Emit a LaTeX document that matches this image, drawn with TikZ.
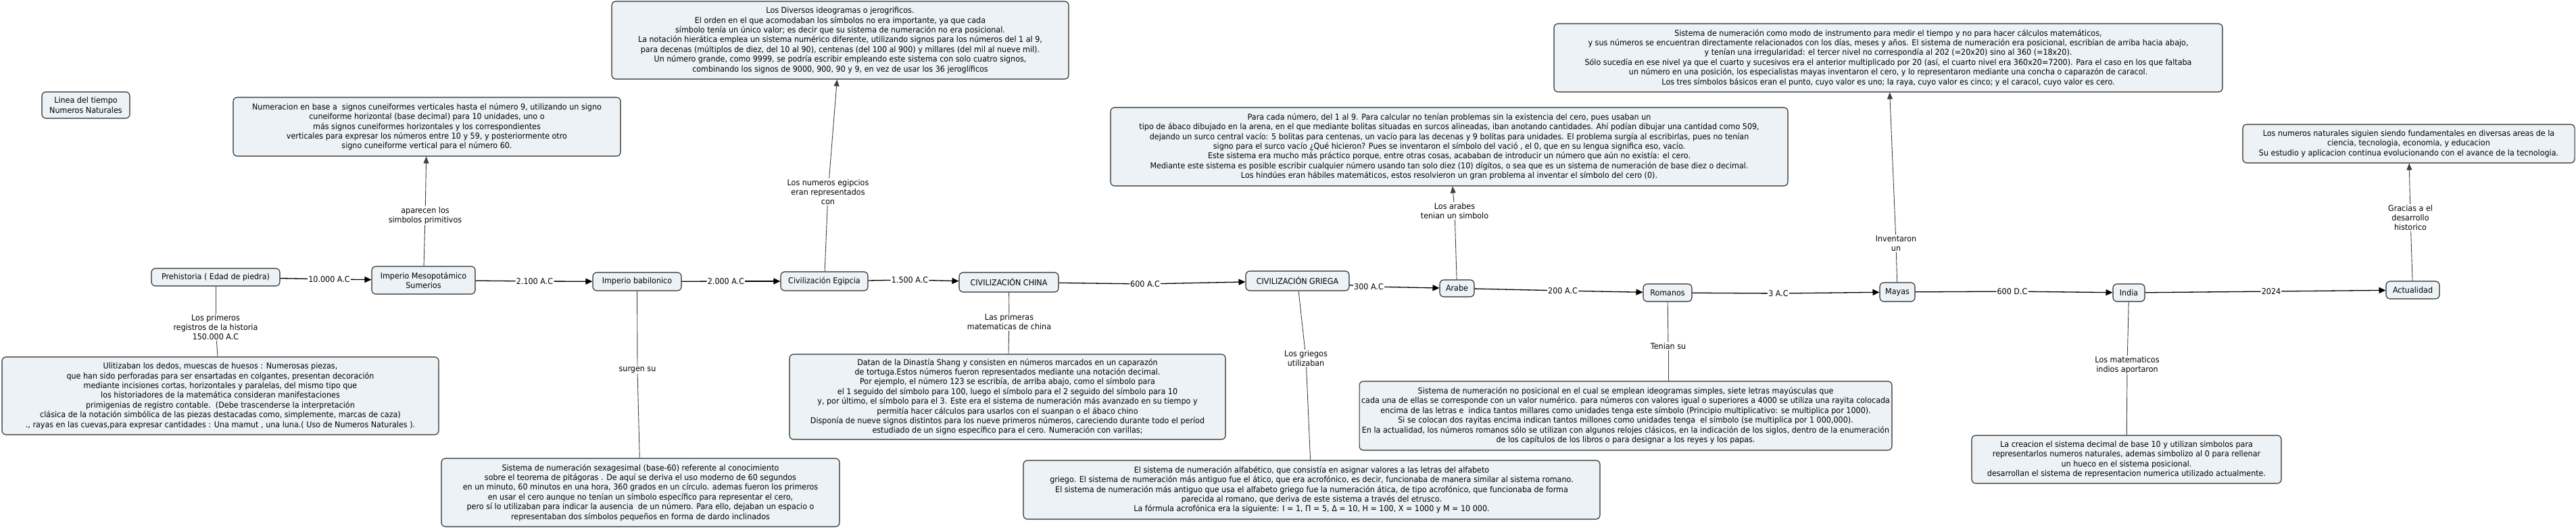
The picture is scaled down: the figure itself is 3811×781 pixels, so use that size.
\documentclass[tikz,border=0pt]{standalone}
\usepackage{fontspec}
\setmainfont{DejaVu Sans}[FakeStretch=0.93]
\usetikzlibrary{arrows.meta}
\definecolor{boxfill}{RGB}{236,242,245}
\definecolor{edgecol}{RGB}{40,40,40}
\tikzset{
  cbox/.style={draw=edgecol, line width=1.1pt, rounded corners=6pt, fill=boxfill,
    align=center, inner sep=3pt, font=\fontsize{12}{14.4}\selectfont},
  lbl/.style={fill=white, inner sep=1pt, align=center, font=\fontsize{12}{14.4}\selectfont},
  tl/.style={draw=black, line width=1.3pt},
  tla/.style={tl, -{Triangle[length=10pt,width=9pt]}},
  vl/.style={draw=black!75, line width=0.9pt},
  vla/.style={vl, -{Triangle[length=10pt,width=8pt]}},
}
\begin{document}
\begin{tikzpicture}[x=1pt,y=-1pt]
\useasboundingbox (0,0) rectangle (3811,781);
\fill[white] (0,0) rectangle (3811,781);

% ---- boxes ----
\node[cbox, minimum width=130pt, minimum height=39pt] (linea) at (127,155.5)
  {Linea del tiempo\\Numeros Naturales};
\node[cbox, minimum width=573pt, minimum height=87pt] (numer) at (631.5,187.5)
  {Numeracion en base a\ \ signos cuneiformes verticales hasta el número 9, utilizando un signo\\
   cuneiforme horizontal (base decimal) para 10 unidades, uno o\\
   más signos cuneiformes horizontales y los correspondientes\\
   verticales para expresar los números entre 10 y 59, y posteriormente otro\\
   signo cuneiforme vertical para el número 60.};
\node[cbox, minimum width=676pt, minimum height=115pt] (diversos) at (1243,59.5)
  {Los Diversos ideogramas o jerogrificos.\\
   El orden en el que acomodaban los símbolos no era importante, ya que cada\\
   símbolo tenía un único valor; es decir que su sistema de numeración no era posicional.\\
   La notación hierática emplea un sistema numérico diferente, utilizando signos para los números del 1 al 9,\\
   para decenas (múltiplos de diez, del 10 al 90), centenas (del 100 al 900) y millares (del mil al nueve mil).\\
   Un número grande, como 9999, se podría escribir empleando este sistema con solo cuatro signos,\\
   combinando los signos de 9000, 900, 90 y 9, en vez de usar los 36 jeroglíficos};

\node[cbox, minimum width=190pt, minimum height=26pt] (prehist) at (319,410) {Prehistoria ( Edad de piedra)};
\node[cbox, minimum width=153pt, minimum height=41pt] (meso) at (626.5,414.5) {Imperio Mesopotámico\\Sumerios};
\node[cbox, minimum width=131pt, minimum height=27pt] (babil) at (942.5,416.5) {Imperio babilonico};
\node[cbox, minimum width=129pt, minimum height=28pt] (egip) at (1219.5,416) {Civilización Egipcia};
\node[cbox, minimum width=147pt, minimum height=29pt] (china) at (1492.5,417.5) {CIVILIZACIÓN CHINA};
\node[cbox, minimum width=153pt, minimum height=29pt] (griega) at (1919.5,415.5) {CIVILIZACIÓN GRIEGA};
\node[cbox, minimum width=51pt, minimum height=25pt] (arabe) at (2155.5,426.5) {Arabe};
\node[cbox, minimum width=72pt, minimum height=26pt] (romanos) at (2467,433) {Romanos};
\node[cbox, minimum width=52pt, minimum height=28pt] (mayas) at (2807,432) {Mayas};
\node[cbox, minimum width=47pt, minimum height=26pt] (india) at (3149.5,433) {India};
\node[cbox, minimum width=79pt, minimum height=26pt] (actual) at (3569.5,429) {Actualidad};

\node[cbox, minimum width=646pt, minimum height=115pt] (ulit) at (326,585.5)
  {Ulitizaban los dedos, muescas de huesos : Numerosas piezas,\\
   que han sido perforadas para ser ensartadas en colgantes, presentan decoración\\
   mediante incisiones cortas, horizontales y paralelas, del mismo tipo que\\
   los historiadores de la matemática consideran manifestaciones\\
   primigenias de registro contable.\ \ (Debe trascenderse la interpretación\\
   clásica de la notación simbólica de las piezas destacadas como, simplemente, marcas de caza)\\
   ., rayas en las cuevas,para expresar cantidades : Una mamut , una luna.( Uso de Numeros Naturales ).};
\node[cbox, minimum width=589pt, minimum height=101pt] (sexa) at (947.5,728.5)
  {Sistema de numeración sexagesimal (base-60) referente al conocimiento\\
   sobre el teorema de pitágoras . De aquí se deriva el uso moderno de 60 segundos\\
   en un minuto, 60 minutos en una hora, 360 grados en un círculo. ademas fueron los primeros\\
   en usar el cero aunque no tenían un símbolo específico para representar el cero,\\
   pero sí lo utilizaban para indicar la ausencia\ \ de un número. Para ello, dejaban un espacio o\\
   representaban dos símbolos pequeños en forma de dardo inclinados};
\node[cbox, minimum width=645pt, minimum height=126pt] (datan) at (1490.5,587)
  {Datan de la Dinastía Shang y consisten en números marcados en un caparazón\\
   de tortuga.Estos números fueron representados mediante una notación decimal.\\
   Por ejemplo, el número 123 se escribía, de arriba abajo, como el símbolo para\\
   el 1 seguido del símbolo para 100, luego el símbolo para el 2 seguido del símbolo para 10\\
   y, por último, el símbolo para el 3. Este era el sistema de numeración más avanzado en su tiempo y\\
   permitía hacer cálculos para usarlos con el suanpan o el ábaco chino\\
   Disponía de nueve signos distintos para los nueve primeros números, careciendo durante todo el períod\\
   estudiado de un signo específico para el cero. Numeración con varillas;};
\node[cbox, minimum width=853pt, minimum height=87pt] (greek) at (1940.5,724.5)
  {El sistema de numeración alfabético, que consistía en asignar valores a las letras del alfabeto\\
   griego. El sistema de numeración más antiguo fue el ático, que era acrofónico, es decir, funcionaba de manera similar al sistema romano.\\
   El sistema de numeración más antiguo que usa el alfabeto griego fue la numeración ática, de tipo acrofónico, que funcionaba de forma\\
   parecida al romano, que deriva de este sistema a través del etrusco.\\
   La fórmula acrofónica era la siguiente: Ι = 1, Π = 5, Δ = 10, Η = 100, Χ = 1000 y Μ = 10 000.};
\node[cbox, minimum width=1002pt, minimum height=116pt] (paracada) at (2144,217)
  {Para cada número, del 1 al 9. Para calcular no tenían problemas sin la existencia del cero, pues usaban un\\
   tipo de ábaco dibujado en la arena, en el que mediante bolitas situadas en surcos alineadas, iban anotando cantidades. Ahí podían dibujar una cantidad como 509,\\
   dejando un surco central vacío: 5 bolitas para centenas, un vacío para las decenas y 9 bolitas para unidades. El problema surgía al escribirlas, pues no tenían\\
   signo para el surco vacío ¿Qué hicieron? Pues se inventaron el símbolo del vació , el 0, que en su lengua significa eso, vacío.\\
   Este sistema era mucho más práctico porque, entre otras cosas, acababan de introducir un número que aún no existía: el cero.\\
   Mediante este sistema es posible escribir cualquier número usando tan solo diez (10) dígitos, o sea que es un sistema de numeración de base diez o decimal.\\
   Los hindúes eran hábiles matemáticos, estos resolvieron un gran problema al inventar el símbolo del cero (0).};
\node[cbox, minimum width=744pt, minimum height=102pt] (roman) at (2405,615)
  {Sistema de numeración no posicional en el cual se emplean ideogramas simples, siete letras mayúsculas que\\
   cada una de ellas se corresponde con un valor numérico. para números con valores igual o superiores a 4000 se utiliza una rayita colocada\\
   encima de las letras e\ \ indica tantos millares como unidades tenga este símbolo (Principio multiplicativo: se multiplica por 1000).\\
   Si se colocan dos rayitas encima indican tantos millones como unidades tenga\ \ el símbolo (se multiplica por 1 000,000).\\
   En la actualidad, los números romanos sólo se utilizan con algunos relojes clásicos, en la indicación de los siglos, dentro de la enumeración\\
   de los capítulos de los libros o para designar a los reyes y los papas.};
\node[cbox, minimum width=989pt, minimum height=101pt] (maya) at (2793.5,85.5)
  {Sistema de numeración como modo de instrumento para medir el tiempo y no para hacer cálculos matemáticos,\\
   y sus números se encuentran directamente relacionados con los días, meses y años. El sistema de numeración era posicional, escribían de arriba hacia abajo,\\
   y tenían una irregularidad: el tercer nivel no correspondía al 202 (=20x20) sino al 360 (=18x20).\\
   Sólo sucedía en ese nivel ya que el cuarto y sucesivos era el anterior multiplicado por 20 (así, el cuarto nivel era 360x20=7200). Para el caso en los que faltaba\\
   un número en una posición, los especialistas mayas inventaron el cero, y lo representaron mediante una concha o caparazón de caracol.\\
   Los tres símbolos básicos eran el punto, cuyo valor es uno; la raya, cuyo valor es cinco; y el caracol, cuyo valor es cero.};
\node[cbox, minimum width=458pt, minimum height=71pt] (indiabox) at (3146,679.5)
  {La creacion el sistema decimal de base 10 y utilizan simbolos para\\
   representarlos numeros naturales, ademas simbolizo al 0 para rellenar\\
   un hueco en el sistema posicional.\\
   desarrollan el sistema de representacion numerica utilizado actualmente.};
\node[cbox, minimum width=491pt, minimum height=57pt] (topright) at (3563.5,212.5)
  {Los numeros naturales siguien siendo fundamentales en diversas areas de la\\
   ciencia, tecnologia, economia, y educacion\\
   Su estudio y aplicacion continua evolucionando con el avance de la tecnologia.};

% ---- timeline labels ----
\node[lbl] (l1) at (487,413) {10.000 A.C};
\node[lbl] (l2) at (791,416) {2.100 A.C};
\node[lbl] (l3) at (1074,416) {2.000 A.C};
\node[lbl] (l4) at (1346,414) {1.500 A.C};
\node[lbl] (l5) at (1694,420) {600 A.C};
\node[lbl] (l6) at (2025,424) {300 A.C};
\node[lbl] (l7) at (2312,430) {200 A.C};
\node[lbl] (l8) at (2631,434) {3 A.C};
\node[lbl] (l9) at (2977,431) {600 D.C};
\node[lbl] (l10) at (3360,431) {2024};

% ---- vertical labels ----
\node[lbl] (v1) at (629,319) {aparecen los\\simbolos primitivos};
\node[lbl] (v2) at (319,484) {Los primeros\\registros de la historia\\150.000 A.C};
\node[lbl] (v3) at (943,547) {surgen su};
\node[lbl] (v4) at (1225,284) {Los numeros egipcios\\eran representados\\con};
\node[lbl] (v5) at (1493,476) {Las primeras\\matematicas de china};
\node[lbl] (v6) at (2152,312) {Los arabes\\tenian un simbolo};
\node[lbl] (v7) at (1932,530) {Los griegos\\utilizaban};
\node[lbl] (v8) at (2468,512) {Tenian su};
\node[lbl] (v9) at (2805,360) {Inventaron\\un};
\node[lbl] (v10) at (3147,540) {Los matematicos\\indios aportaron};
\node[lbl] (v11) at (3566,322) {Gracias a el\\desarrollo\\historico};

% ---- timeline connectors ----
\draw[tl] (prehist) -- (l1); \draw[tla] (l1) -- (meso);
\draw[tl] (meso) -- (l2);    \draw[tla] (l2) -- (babil);
\draw[tl] (babil) -- (l3);   \draw[tla] (l3) -- (egip);
\draw[tl] (egip) -- (l4);    \draw[tla] (l4) -- (china);
\draw[tl] (china) -- (l5);   \draw[tla] (l5) -- (griega);
\draw[tl] (griega) -- (l6);  \draw[tla] (l6) -- (arabe);
\draw[tl] (arabe) -- (l7);   \draw[tla] (l7) -- (romanos);
\draw[tl] (romanos) -- (l8); \draw[tla] (l8) -- (mayas);
\draw[tl] (mayas) -- (l9);   \draw[tla] (l9) -- (india);
\draw[tl] (india) -- (l10);  \draw[tla] (l10) -- (actual);

% ---- vertical connectors ----
\draw[vl] (meso) -- (v1);    \draw[vla] (v1) -- (numer);
\draw[vl] (prehist) -- (v2); \draw[vl] (v2) -- (ulit);
\draw[vl] (babil) -- (v3);   \draw[vl] (v3) -- (sexa);
\draw[vl] (egip) -- (v4);    \draw[vla] (v4) -- (diversos);
\draw[vl] (china) -- (v5);   \draw[vl] (v5) -- (datan);
\draw[vl] (arabe) -- (v6);   \draw[vla] (v6) -- (paracada);
\draw[vl] (griega) -- (v7);  \draw[vl] (v7) -- (greek);
\draw[vl] (romanos) -- (v8); \draw[vl] (v8) -- (v8 |- roman.north);
\draw[vl] (mayas) -- (v9);   \draw[vla] (v9) -- (maya);
\draw[vl] (india) -- (v10);  \draw[vl] (v10) -- (indiabox);
\draw[vl] (actual) -- (v11); \draw[vla] (v11) -- (topright);
\end{tikzpicture}
\end{document}
